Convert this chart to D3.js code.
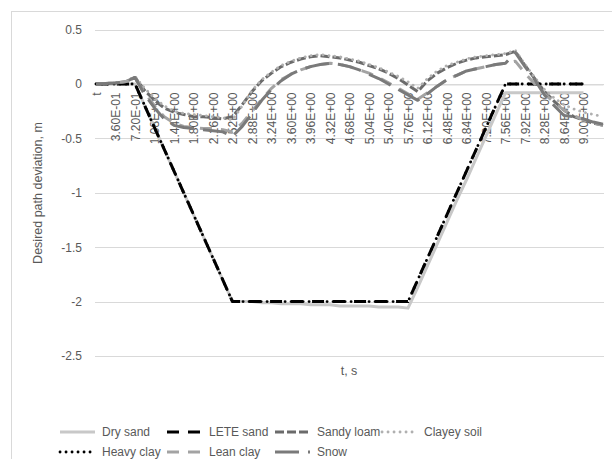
<!DOCTYPE html>
<html>
<head>
<meta charset="utf-8">
<script src="https://cdn.jsdelivr.net/npm/d3@7"></script>
<style>
  body { margin: 0; background: #fff; }
  text { font-family: "Liberation Sans", Arial, sans-serif; fill: #595959; }
</style>
</head>
<body>
<svg></svg>
<script>
var width = 612;
var height = 459;

// category labels (t column of the sheet), one every 0.18 s
var categories = ["t","1.80E-01","3.60E-01","5.40E-01","7.20E-01","9.00E-01","1.08E+00","1.26E+00",
  "1.44E+00","1.62E+00","1.80E+00","1.98E+00","2.16E+00","2.34E+00","2.52E+00","2.70E+00","2.88E+00",
  "3.06E+00","3.24E+00","3.42E+00","3.60E+00","3.78E+00","3.96E+00","4.14E+00","4.32E+00","4.50E+00",
  "4.68E+00","4.86E+00","5.04E+00","5.22E+00","5.40E+00","5.58E+00","5.76E+00","5.94E+00","6.12E+00",
  "6.30E+00","6.48E+00","6.66E+00","6.84E+00","7.02E+00","7.20E+00","7.38E+00","7.56E+00","7.74E+00",
  "7.92E+00","8.10E+00","8.28E+00","8.46E+00","8.64E+00","8.82E+00","9.00E+00","9.18E+00","9.36E+00"];

var yTicks = [0.5, 0, -0.5, -1, -1.5, -2, -2.5];

var drySand = [0,0,0,0,0,
  -0.2,-0.4,-0.6,-0.8,-1.0,-1.2,-1.4,-1.6,-1.8,-2.0,
  -2.0,-2.0,-2.01,-2.01,-2.02,-2.02,-2.02,-2.03,-2.03,-2.03,-2.04,-2.04,-2.04,-2.04,-2.05,-2.05,-2.05,-2.06,
  -1.87,-1.67,-1.47,-1.27,-1.07,-0.88,-0.68,-0.48,-0.28,-0.08,
  -0.08,-0.08,-0.08,-0.08,-0.08,-0.08,-0.08,-0.08,
  null,null];

var leteSand = [0,0,0,0,0,
  -0.2,-0.4,-0.6,-0.8,-1.0,-1.2,-1.4,-1.6,-1.8,-2.0,
  -2.0,-2.0,-2.0,-2.0,-2.0,-2.0,-2.0,-2.0,-2.0,-2.0,-2.0,-2.0,-2.0,-2.0,-2.0,-2.0,-2.0,-2.0,
  -1.8,-1.6,-1.4,-1.2,-1.0,-0.8,-0.6,-0.4,-0.2,0,
  0,0,0,0,0,0,0,0,
  null,null];

var sandyLoam = [0,0.005,0.01,0.02,0.06,
  -0.06,-0.15,-0.22,-0.26,-0.28,-0.3,-0.3,-0.31,-0.32,-0.3,
  -0.19,-0.07,0.03,0.1,0.16,0.2,0.23,0.25,0.26,0.25,
  0.24,0.22,0.2,0.17,0.14,0.1,0.05,-0.01,-0.07,
  0.03,0.1,0.15,0.19,0.22,0.24,0.25,0.26,0.27,0.3,
  0.17,0.05,-0.07,-0.16,-0.24,-0.3,-0.33,-0.36,-0.38];

var clayeySoil = [0,0.005,0.01,0.02,0.07,
  -0.04,-0.13,-0.2,-0.25,-0.27,-0.28,-0.29,-0.3,-0.31,-0.33,
  -0.2,-0.06,0.04,0.11,0.17,0.21,0.24,0.26,0.27,0.26,
  0.25,0.23,0.21,0.18,0.15,0.11,0.07,0.02,-0.04,
  0.05,0.12,0.17,0.2,0.23,0.25,0.26,0.27,0.28,0.31,
  0.18,0.06,-0.05,-0.13,-0.19,-0.23,-0.26,-0.28,-0.3];

var heavyClay = [0,0,0,0,0,
  -0.2,-0.4,-0.6,-0.8,-1.0,-1.2,-1.4,-1.6,-1.8,-2.0,
  -2.0,-2.0,-2.0,-2.0,-2.0,-2.0,-2.0,-2.0,-2.0,-2.0,-2.0,-2.0,-2.0,-2.0,-2.0,-2.0,-2.0,-2.0,
  -1.8,-1.6,-1.4,-1.2,-1.0,-0.8,-0.6,-0.4,-0.2,0,
  0,0,0,0,0,0,0,0,
  null,null];

var leanClay = [0,0.005,0.01,0.02,0.05,
  -0.08,-0.2,-0.3,-0.36,-0.39,-0.4,-0.41,-0.41,-0.42,-0.44,
  -0.36,-0.25,-0.14,-0.04,0.04,0.09,0.13,0.16,0.18,0.19,
  0.18,0.16,0.13,0.1,0.06,0.01,-0.04,-0.09,-0.14,
  -0.08,-0.02,0.04,0.08,0.12,0.14,0.16,0.18,0.19,0.21,
  0.1,0.0,-0.09,-0.17,-0.24,-0.29,-0.33,-0.36,-0.38];

var snow = [0,0.005,0.01,0.02,0.06,
  -0.1,-0.22,-0.32,-0.38,-0.4,-0.41,-0.42,-0.43,-0.44,-0.48,
  -0.39,-0.27,-0.15,-0.05,0.03,0.09,0.13,0.16,0.18,0.19,
  0.18,0.16,0.13,0.09,0.05,0.0,-0.05,-0.1,-0.15,
  -0.09,-0.02,0.04,0.08,0.12,0.14,0.16,0.18,0.19,0.29,
  0.16,0.04,-0.1,-0.2,-0.29,-0.3,-0.32,-0.35,-0.37];

var seriesNames = ["Dry sand","LETE sand","Sandy loam","Clayey soil","Heavy clay","Lean clay","Snow"];
var seriesValues = [drySand, leteSand, sandyLoam, clayeySoil, heavyClay, leanClay, snow];

// stroke styles, same order as seriesNames (Excel dash types at 3px width)
var styles = [
  {color: "#c8c8c8", dash: null,      cap: "butt",  w: 3},
  {color: "#000000", dash: "12,9",    cap: "butt",  w: 3},
  {color: "#6b6b6b", dash: "9,3",     cap: "butt",  w: 3},
  {color: "#b0b0b0", dash: "0.1,5.9", cap: "round", w: 2.8},
  {color: "#000000", dash: "0.1,5.9", cap: "round", w: 2.8},
  {color: "#a3a3a3", dash: "12,9",    cap: "butt",  w: 3},
  {color: "#7a7a7a", dash: "24,9",    cap: "butt",  w: 3}
];

var svg = d3.select("svg")
            .attr("width", width)
            .attr("height", height);

// chart area border (runs off right/bottom edge like the original)
svg.append("rect")
   .attr("x", 11.5).attr("y", 11.5)
   .attr("width", 700).attr("height", 600)
   .attr("fill", "none")
   .attr("stroke", "#d9d9d9");

var xScale = d3.scalePoint()
               .domain(d3.range(categories.length))
               .range([96, 603]);

var yScale = d3.scaleLinear()
               .domain([-2.5, 0.5])
               .range([356, 29.6]);

// horizontal gridlines
svg.append("g")
  .selectAll("line")
  .data(yTicks)
  .enter()
  .append("line")
    .attr("x1", 95)
    .attr("x2", 604)
    .attr("y1", d => Math.round(yScale(d)) + 0.5)
    .attr("y2", d => Math.round(yScale(d)) + 0.5)
    .attr("stroke", "#d9d9d9")
    .attr("stroke-width", 1);

// Y axis labels
var yAxis = d3.axisLeft(yScale)
              .tickValues(yTicks)
              .tickSize(0)
              .tickPadding(0)
              .tickFormat(d => String(d));

svg.append("g")
    .attr("transform", "translate(82,0)")
    .call(yAxis)
    .call(g => g.select(".domain").remove())
    .selectAll("text")
      .attr("font-size", "12px")
      .attr("font-family", null)
      .attr("fill", "#595959");

// X axis at y = 0, labels every second category
var xAxis = d3.axisBottom(xScale)
              .tickValues(d3.range(0, 51, 2))
              .tickSize(0)
              .tickFormat(i => categories[i]);

svg.append("g")
    .attr("transform", "translate(0," + (Math.round(yScale(0)) + 0.5) + ")")
    .call(xAxis)
    .call(g => g.select(".domain").attr("stroke", "#d9d9d9"))
    .selectAll("text")
      .attr("font-size", "12px")
      .attr("font-family", null)
      .attr("fill", "#595959")
      .attr("transform", "rotate(-90)")
      .attr("x", -8)
      .attr("y", 0)
      .attr("dy", "0.35em")
      .style("text-anchor", "end");

// series lines
var line = d3.line()
             .defined(d => d !== null)
             .x((d, i) => xScale(i))
             .y(d => yScale(d));

svg.append("g")
  .selectAll("path")
  .data(seriesValues)
  .enter()
  .append("path")
    .attr("d", d => line(d))
    .attr("fill", "none")
    .attr("stroke", (d, i) => styles[i].color)
    .attr("stroke-width", (d, i) => styles[i].w)
    .attr("stroke-dasharray", (d, i) => styles[i].dash)
    .attr("stroke-linecap", (d, i) => styles[i].cap)
    .attr("stroke-linejoin", "round");

// axis titles
svg.append("text")
    .attr("transform", "translate(42,193) rotate(-90)")
    .attr("font-size", "12.5px")
    .style("text-anchor", "middle")
    .text("Desired path deviation, m");

svg.append("text")
    .attr("x", 349)
    .attr("y", 375)
    .attr("font-size", "12.5px")
    .style("text-anchor", "middle")
    .text("t, s");

// legend: 4 columns, 2 rows
var legendCols = [60, 167, 275, 382];
var legendRows = [432, 452];

var legend = svg.append("g")
  .selectAll("g")
  .data(seriesNames)
  .enter()
  .append("g")
    .attr("transform", (d, i) => "translate(" + legendCols[i % 4] + "," + legendRows[Math.floor(i / 4)] + ")");

legend.append("line")
    .attr("x1", 0)
    .attr("x2", 35)
    .attr("stroke", (d, i) => styles[i].color)
    .attr("stroke-width", (d, i) => styles[i].w)
    .attr("stroke-dasharray", (d, i) => styles[i].dash)
    .attr("stroke-linecap", (d, i) => styles[i].cap);

legend.append("text")
    .attr("x", 42)
    .attr("dy", "0.35em")
    .attr("font-size", "12px")
    .text(d => d);
</script>
</body>
</html>
